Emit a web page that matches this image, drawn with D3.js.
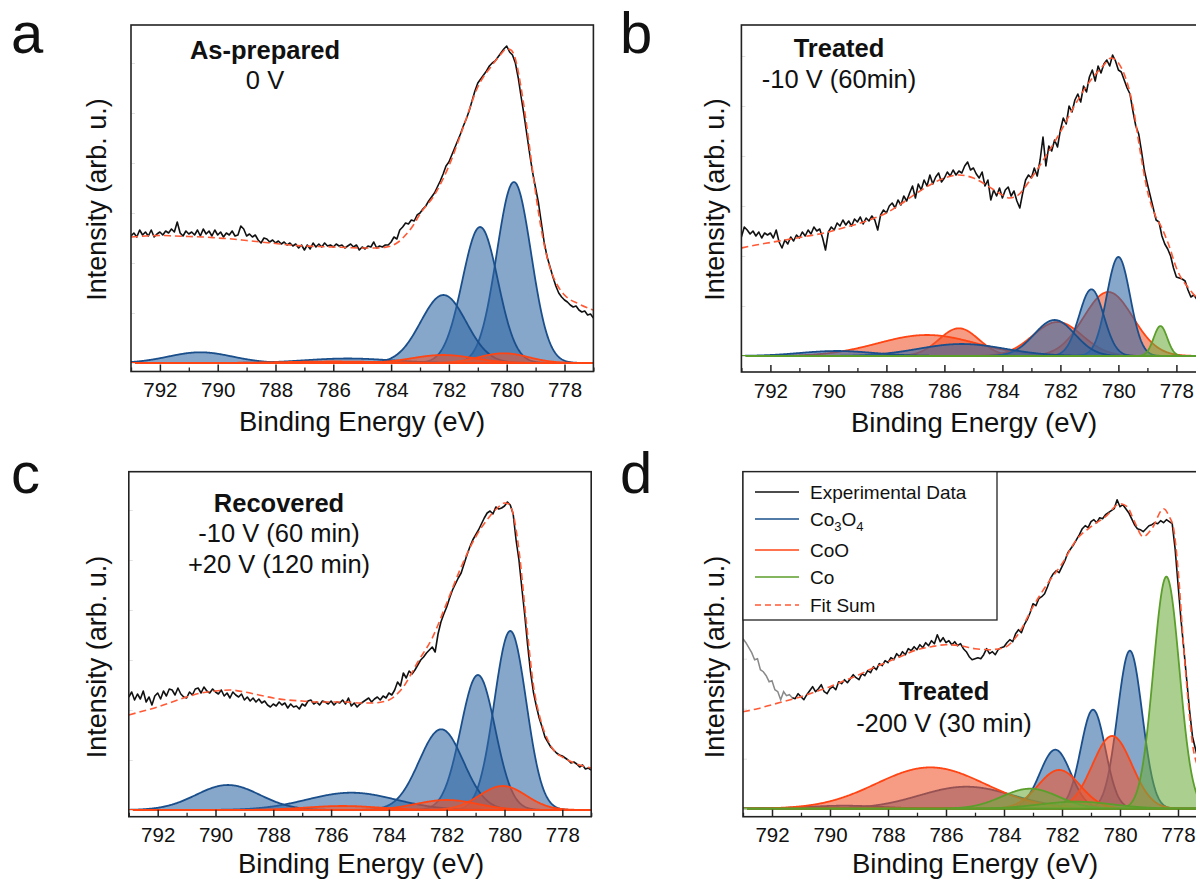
<!DOCTYPE html>
<html><head><meta charset="utf-8">
<script src="https://cdn.jsdelivr.net/npm/d3@7"></script>
<style>
body{margin:0;background:#fff}
svg{display:block}
text{font-family:"Liberation Sans",Arial,Helvetica,sans-serif;fill:#111}
</style>
</head><body>
<svg id="chart" width="1196" height="881"></svg>
<script>
// ================= DATA =================
const energyDomain = [793, 777];
const majorTicks = [792, 790, 788, 786, 784, 782, 780, 778];
const minorTicks = [793, 791, 789, 787, 785, 783, 781, 779, 777];
const expStep = 0.1;            // eV spacing of the measured points
const xTitle = "Binding Energy (eV)";
const yTitle = "Intensity (arb. u.)";
const panelLetters = ["a", "b", "c", "d"];
const conditionLabels = [
  ["As-prepared", "0 V"],
  ["Treated", "-10 V (60min)"],
  ["Recovered", "-10 V (60 min)", "+20 V (120 min)"],
  ["Treated", "-200 V (30 min)"]
];
const legendLabels = ["Experimental Data", "Co3O4", "CoO", "Co", "Fit Sum"];

// Experimental data (arb. u.), 793.0 eV downward in 0.1 eV steps
const expA = [
127,130,126,133,128,131,127,133,126,129,
131,128,132,130,134,131,141,130,127,132,
129,131,128,133,127,134,129,132,127,133,
128,131,126,130,128,132,127,128,137,134,
127,129,126,128,123,120,125,124,121,123,
120,122,119,121,118,120,117,119,115,118,
113,118,114,120,116,119,116,120,117,118,
116,119,117,118,115,117,119,116,118,113,
116,114,117,116,121,115,117,116,118,118,
121,126,124,133,136,140,139,143,142,148,
150,154,157,162,166,170,176,182,189,197,
201,208,215,222,229,237,244,252,262,272,
280,284,288,292,297,300,302,306,310,314,
317,311,308,300,285,266,248,228,208,190,
175,160,140,120,106,96,86,77,70,66,
63,61,58,56,57,53,51,52,48,49,
45];
const expB = [
119,129,126,122,125,120,124,118,123,121,
123,118,126,114,108,116,112,119,115,121,
118,124,120,126,122,129,125,127,118,106,
124,129,126,133,130,136,131,135,130,137,
134,139,132,138,135,140,136,126,141,146,
143,150,153,148,156,151,160,155,163,170,
158,172,166,176,170,181,172,179,183,174,
178,184,180,186,181,185,183,190,194,186,
188,182,178,184,170,176,156,166,160,168,
158,166,169,160,165,155,148,163,176,181,
178,188,180,196,219,190,210,205,216,209,
226,238,232,250,244,256,262,254,270,264,
279,286,275,290,283,292,296,290,301,295,
286,284,276,268,262,245,230,222,204,185,
172,160,148,136,134,120,112,107,100,88,
79,78,77,75,66,59,61,57,58,54,
55];
const expC = [
113,118,110,116,111,119,108,113,105,114,
117,111,119,114,121,120,115,122,116,113,
112,118,115,121,122,117,123,119,117,121,
118,116,120,114,117,112,118,115,113,116,
110,113,109,112,108,111,107,109,105,103,
106,104,108,105,107,102,106,103,104,101,
106,104,109,110,106,108,105,109,108,106,
109,105,108,107,110,106,112,104,107,103,
106,108,110,112,108,111,113,110,114,112,
117,115,120,128,124,137,132,139,136,140,
145,150,153,157,160,163,158,176,188,196,
203,212,220,226,232,237,246,255,263,270,
275,280,286,292,297,299,296,303,301,302,
304,308,305,296,270,250,222,195,165,138,
118,104,92,83,73,68,63,60,57,55,
54,52,50,47,48,46,43,45,41,42,
40];
// panel d: points outside the fitted window (grey), 793.0 – 791.3 eV
const expDExcluded = [
170,166,161,156,149,150,139,137,133,127,
128,119,117,109,117,113,114,111];
const expDExcludedStart = 793.0;
// panel d: fitted window, 791.3 – 777.0 eV
const expD = [
111,110,115,112,109,114,118,122,117,120,
124,117,115,120,122,119,127,125,129,126,
130,134,131,129,135,133,138,136,142,139,
145,143,148,146,151,149,155,152,157,154,
160,158,162,159,164,161,166,163,168,165,
174,167,171,166,168,164,167,163,165,160,
157,152,149,150,151,150,154,160,155,157,
154,159,161,162,166,169,167,175,179,176,
184,189,196,205,203,210,212,215,222,230,
235,238,236,242,248,256,260,264,269,274,
280,283,281,287,289,286,291,290,294,296,
298,300,309,302,304,300,296,290,284,280,
279,277,280,283,284,286,285,288,286,289,
287,285,260,225,190,160,129,98,72,60,
48,40,34,30];
const expDStart = 791.3;

// Fit sum envelopes [eV, intensity]
const fitA = [[793,126],[792.5,127],[792,127.5],[791.5,127],[791,126.5],[790.5,126],[790,125],[789.5,124],[789,122.5],[788.5,121],[788,119.5],[787.5,118],[787,117],[786.5,116.5],[786,116],[785.5,115.5],[785,115],[784.5,115],[784.25,115.5],[784,117],[783.75,121],[783.5,128],[783.25,137],[783,149],[782.5,168],[782,197],[781.5,236],[781,276],[780.5,298],[780.25,307],[780,314],[779.85,313],[779.7,304],[779.5,275],[779.25,225],[779,170],[778.75,125],[778.5,95],[778.25,78],[778,68],[777.5,59],[777,53]];
const fitB = [[793,108],[792.5,111],[792,113.5],[791.5,116],[791,118.5],[790.5,121],[790,124],[789.5,128],[789,132],[788.5,137],[788,143],[787.5,152],[787,162],[786.5,171],[786,178],[785.5,181],[785,178],[784.5,170],[784,161],[783.75,158],[783.5,160],[783,178],[782.5,200],[782,224],[781.5,251],[781,274],[780.5,291],[780.25,298],[780,293],[779.75,278],[779.5,250],[779.25,205],[779,165],[778.75,142],[778.5,128],[778.25,110],[778,88],[777.5,65],[777,50]];
const fitC = [[793,95],[792.5,99],[792,103],[791.5,108],[791,113],[790.5,117],[790,119],[789.5,120],[789,118],[788.5,115],[788,112],[787.5,110],[787,109],[786.5,108],[786,108],[785.5,108],[785,107],[784.5,107],[784.25,108],[784,110],[783.75,115],[783.5,123],[783.25,135],[783,148],[782.5,172],[782,207],[781.5,243],[781,273],[780.5,294],[780.25,302],[780,307],[779.85,306],[779.7,296],[779.5,260],[779.25,190],[779,125],[778.75,90],[778.5,70],[778.25,58],[778,53],[777.5,46],[777,42]];
const fitD = [[793,97],[792.5,100],[792,104],[791.5,108],[791,112],[790.5,117],[790,122],[789.5,128],[789,134],[788.5,141],[788,147],[787.5,153],[787,159],[786.5,162],[786,164],[785.5,163],[785,160],[784.5,159],[784,161],[783.5,175],[783,202],[782.5,225],[782,245],[781.5,269],[781,282],[780.5,292],[780,305],[779.75,302],[779.5,287],[779.2,272],[778.9,280],[778.5,300],[778.3,292],[778.15,280],[778,240],[777.8,160],[777.6,92],[777.5,65],[777.25,38],[777,27]];

// Fitted Gaussian components: [phase, centre eV, height, FWHM eV]
const peaksA = [
  ["Co3O4",779.75,181,1.4],["Co3O4",780.92,136,1.45],["Co3O4",782.19,68,1.85],
  ["Co3O4",785.5,4.5,3.5],["Co3O4",790.6,10.7,2.6],
  ["CoO",780.1,9.7,2.0],["CoO",782.2,8,2.5],["CoO",786.0,1.5,4.0]];
const peaksB = [
  ["Co3O4",780.0,99,0.95],["Co3O4",780.93,66.7,1.0],["Co3O4",782.2,36,1.65],
  ["Co3O4",785.4,12,3.5],["Co3O4",789.7,5,3.0],
  ["CoO",780.35,64,2.0],["CoO",782.1,34,2.0],["CoO",785.5,27.7,1.6],["CoO",786.6,21,4.0],
  ["Co",778.55,30,0.55]];
const peaksC = [
  ["Co3O4",779.8,179,1.3],["Co3O4",780.92,135,1.4],["Co3O4",782.19,80.7,1.8],
  ["Co3O4",785.3,17.3,3.6],["Co3O4",789.57,25,2.6],
  ["CoO",780.06,24,1.9],["CoO",782.0,10,2.5],["CoO",785.6,4,3.0]];
const peaksD = [
  ["Co3O4",779.66,158,1.0],["Co3O4",780.93,99,1.0],["Co3O4",782.23,59,1.25],
  ["Co3O4",785.3,22,3.8],["Co3O4",789.5,3,3.0],
  ["CoO",780.27,72.7,1.6],["CoO",782.1,38.7,1.7],["CoO",786.54,41.3,4.4],
  ["Co",778.4,232,1.05],["Co",783.1,20,2.3],["Co",781.5,7,3.0]];

// ================= STYLE / LAYOUT =================
const phaseStroke = {Co3O4:"#1a4f8b", CoO:"#ff4513", Co:"#5b9e2b"};
const phaseFill   = {Co3O4:"#2e66a3", CoO:"#f2552b", Co:"#6eac3e"};
const fitColor = "#ff5a36";
const FONT = '"Liberation Sans",Arial,Helvetica,sans-serif';

const panels = [
  {exp:expA, expStart:793, fit:fitA, peaks:peaksA, order:["Co3O4","CoO","Co"],
   L:131, R:593.4, T:25, B:371.5, base:363,
   letter:[11,53], ylab:[106,199.5], xlab:[362,431], tickBase:397,
   labels:{x:265, y:[59,89]}},
  {exp:expB, expStart:793, fit:fitB, peaks:peaksB, order:["CoO","Co3O4","Co"],
   L:741.4, R:1205.4, T:25, B:372, base:356,
   letter:[620,53], ylab:[724,199.5], xlab:[974,432], tickBase:397.5,
   labels:{x:839, y:[57,88]}},
  {exp:expC, expStart:793, fit:fitC, peaks:peaksC, order:["Co3O4","CoO","Co"],
   L:128.8, R:591.2, T:471.7, B:816.7, base:810,
   letter:[11,493], ylab:[106,657], xlab:[361,873], tickBase:842,
   labels:{x:279, y:[512,542,573]}},
  {exp:expD, expStart:expDStart, excluded:expDExcluded, fit:fitD, peaks:peaksD, order:["Co3O4","CoO","Co"],
   L:743, R:1207, T:471.7, B:816.7, base:808.7,
   letter:[620,493], ylab:[724,657], xlab:[975,873], tickBase:842,
   labels:{x:944, y:[700,732]}, legend:true}
];

const svg = d3.select("#chart");
const fineGrid = d3.range(energyDomain[0], energyDomain[1] - 0.001, -0.02);

panels.forEach((p, i) => {
  const g = svg.append("g");
  const x = d3.scaleLinear().domain(energyDomain).range([p.L, p.R]);
  const y = d3.scaleLinear().domain([0, p.base - p.T]).range([p.base, p.T]);

  const clipId = "clip" + i;
  svg.append("clipPath").attr("id", clipId).append("rect")
    .attr("x", p.L).attr("y", p.T).attr("width", p.R - p.L).attr("height", p.B - p.T);
  const plot = g.append("g").attr("clip-path", `url(#${clipId})`);

  // components
  const area = d3.area().x(d => x(d[0])).y0(y(0)).y1(d => y(d[1]));
  p.order.forEach(ph => {
    p.peaks.filter(pk => pk[0] === ph).forEach(pk => {
      const [, c, h, w] = pk;
      const pts = fineGrid.map(e => [e, h * Math.exp(-4 * Math.LN2 * (e - c) * (e - c) / (w * w))]);
      plot.append("path").attr("d", area(pts))
        .attr("fill", phaseFill[ph]).attr("fill-opacity", 0.58)
        .attr("stroke", phaseStroke[ph]).attr("stroke-width", 1.8)
        .attr("stroke-linejoin", "round");
    });
  });

  // experimental data
  const line = d3.line().x(d => x(d[0])).y(d => y(d[1]));
  if (p.excluded) {
    const ex = p.excluded.map((v, k) => [expDExcludedStart - k * expStep, v]);
    plot.append("path").attr("d", line(ex)).attr("fill", "none")
      .attr("stroke", "#8a8a8a").attr("stroke-width", 1.5);
  }
  const pts = p.exp.map((v, k) => [p.expStart - k * expStep, v]);
  plot.append("path").attr("d", line(pts)).attr("fill", "none")
    .attr("stroke", "#111").attr("stroke-width", 1.6).attr("stroke-linejoin", "round");

  // fit sum
  const fitLine = d3.line().x(d => x(d[0])).y(d => y(d[1])).curve(d3.curveMonotoneX);
  plot.append("path").attr("d", fitLine(p.fit)).attr("fill", "none")
    .attr("stroke", fitColor).attr("stroke-width", 1.6).attr("stroke-dasharray", "7,4");

  // axes
  const ax = g.append("g").attr("transform", `translate(0,${p.B})`)
    .call(d3.axisBottom(x).tickValues(majorTicks).tickFormat(d3.format("d"))
      .tickSizeInner(-7).tickSizeOuter(0).tickPadding(p.tickBase - p.B - 14.4));
  ax.select(".domain").remove();
  ax.selectAll("line").attr("stroke", "#222").attr("stroke-width", 1.5);
  ax.selectAll("text").attr("font-size", 20.5).attr("font-family", FONT).attr("fill", "#111");
  const axm = g.append("g").attr("transform", `translate(0,${p.B})`)
    .call(d3.axisBottom(x).tickValues(minorTicks).tickFormat("").tickSizeInner(-4).tickSizeOuter(0));
  axm.select(".domain").remove();
  axm.selectAll("line").attr("stroke", "#222").attr("stroke-width", 1.3);

  const ay = g.append("g").attr("transform", `translate(${p.L},0)`)
    .call(d3.axisLeft(y).ticks(8).tickFormat("").tickSizeInner(-4).tickSizeOuter(0));
  ay.select(".domain").remove();
  ay.selectAll("line").attr("stroke", "#e2e2e2").attr("stroke-width", 1);

  // frame
  g.append("rect").attr("x", p.L).attr("y", p.T).attr("width", p.R - p.L).attr("height", p.B - p.T)
    .attr("fill", "none").attr("stroke", "#222").attr("stroke-width", 1.6);

  // titles
  g.append("text").attr("x", p.xlab[0]).attr("y", p.xlab[1]).attr("text-anchor", "middle")
    .attr("font-size", 27.5).text(xTitle);
  g.append("text").attr("transform", `translate(${p.ylab[0]},${p.ylab[1]}) rotate(-90)`)
    .attr("text-anchor", "middle").attr("font-size", 27).text(yTitle);
  g.append("text").attr("x", p.letter[0]).attr("y", p.letter[1]).attr("font-size", 58).text(panelLetters[i]);

  // condition labels
  conditionLabels[i].forEach((t, k) => {
    g.append("text").attr("x", p.labels.x).attr("y", p.labels.y[k]).attr("text-anchor", "middle")
      .attr("font-size", 25.5).attr("font-weight", k === 0 ? "bold" : "normal").text(t);
  });

  // legend
  if (p.legend) {
    const lg = g.append("g");
    lg.append("rect").attr("x", p.L).attr("y", p.T).attr("width", 254).attr("height", 148.3)
      .attr("fill", "#fff").attr("stroke", "#222").attr("stroke-width", 1.3);
    const rowsY = [492, 519, 550, 577, 605];
    const lineCol = ["#111", phaseStroke.Co3O4, phaseStroke.CoO, phaseStroke.Co, fitColor];
    legendLabels.forEach((lab, k) => {
      const ly = rowsY[k];
      lg.append("line").attr("x1", 755).attr("x2", 799).attr("y1", ly).attr("y2", ly)
        .attr("stroke", lineCol[k]).attr("stroke-width", 1.6)
        .attr("stroke-dasharray", k === 4 ? "6,4" : null);
      const tx = lg.append("text").attr("x", 810).attr("y", ly + 7).attr("font-size", 19);
      if (lab === "Co3O4") {
        tx.append("tspan").text("Co");
        tx.append("tspan").attr("font-size", 13).attr("dy", 5).text("3");
        tx.append("tspan").attr("dy", -5).text("O");
        tx.append("tspan").attr("font-size", 13).attr("dy", 5).text("4");
      } else {
        tx.text(lab);
      }
    });
  }
});
</script>
</body></html>
